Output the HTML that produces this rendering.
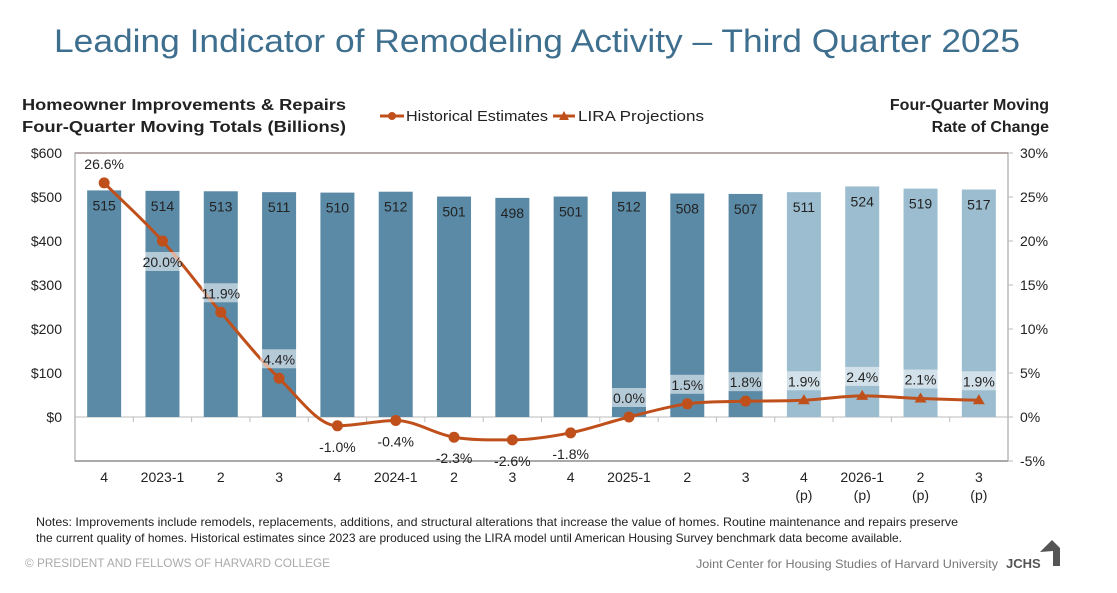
<!DOCTYPE html>
<html><head><meta charset="utf-8"><style>
body{margin:0;background:#fff;}
svg{display:block;font-family:"Liberation Sans",sans-serif;}
</style></head><body>
<svg id="c" width="1117" height="593">
<text x="54" y="52" font-size="32" fill="#3f6f8f" textLength="966" lengthAdjust="spacingAndGlyphs">Leading Indicator of Remodeling Activity – Third Quarter 2025</text>
<text x="22" y="110" font-size="16" font-weight="bold" fill="#222" textLength="324" lengthAdjust="spacingAndGlyphs">Homeowner Improvements &amp; Repairs</text>
<text x="22" y="132" font-size="16" font-weight="bold" fill="#222" textLength="324" lengthAdjust="spacingAndGlyphs">Four-Quarter Moving Totals (Billions)</text>
<text x="1049" y="110" text-anchor="end" font-size="16" font-weight="bold" fill="#222">Four-Quarter Moving</text>
<text x="1049" y="132" text-anchor="end" font-size="16" font-weight="bold" fill="#222">Rate of Change</text>
<g>
<line x1="380" y1="116" x2="404" y2="116" stroke="#c0501b" stroke-width="3"/><circle cx="392" cy="116" r="4" fill="#c0501b"/>
<text x="406" y="121" font-size="15" fill="#222" textLength="142" lengthAdjust="spacingAndGlyphs">Historical Estimates</text>
<line x1="553" y1="116" x2="575" y2="116" stroke="#c0501b" stroke-width="3"/><polygon points="564,111 569,120 559,120" fill="#c0501b"/>
<text x="578" y="121" font-size="15" fill="#222" textLength="126" lengthAdjust="spacingAndGlyphs">LIRA Projections</text>
</g>
<g id="plot"></g>
<text x="36" y="526" font-size="12" fill="#222" textLength="922" lengthAdjust="spacingAndGlyphs">Notes: Improvements include remodels, replacements, additions, and structural alterations that increase the value of homes. Routine maintenance and repairs preserve</text>
<text x="36" y="542" font-size="12" fill="#222" textLength="866" lengthAdjust="spacingAndGlyphs">the current quality of homes. Historical estimates since 2023 are produced using the LIRA model until American Housing Survey benchmark data become available.</text>
<text x="25" y="567" font-size="12" fill="#aaa" textLength="305" lengthAdjust="spacingAndGlyphs">© PRESIDENT AND FELLOWS OF HARVARD COLLEGE</text>
<text x="998" y="568" text-anchor="end" font-size="12" fill="#777" textLength="302" lengthAdjust="spacingAndGlyphs">Joint Center for Housing Studies of Harvard University</text>
<text x="1006" y="568" font-size="13" font-weight="bold" fill="#555">JCHS</text>
<polygon points="1040,552 1052,540 1060,548 1060,566 1053,566 1053,551" fill="#555"/>
</svg>
<script>
const categories=["4","2023-1","2","3","4","2024-1","2","3","4","2025-1","2","3","4","2026-1","2","3"];
const projected=[0,0,0,0,0,0,0,0,0,0,0,0,1,1,1,1];
const totals=[515,514,513,511,510,512,501,498,501,512,508,507,511,524,519,517];
const rates=[26.6,20.0,11.9,4.4,-1.0,-0.4,-2.3,-2.6,-1.8,0.0,1.5,1.8,1.9,2.4,2.1,1.9];
const leftTicks=[0,100,200,300,400,500,600];
const rightTicks=[-5,0,5,10,15,20,25,30];
const L=75,R=1008,T=153,B=461;
const yL=v=>417-v*(417-T)/600;
const yR=v=>417-v*(417-T)/30;
const bw=(R-L)/categories.length;
const xC=i=>L+bw*(i+0.5);
const NS="http://www.w3.org/2000/svg";
const g=document.getElementById('plot');
function mk(t,a,p){const e=document.createElementNS(NS,t);for(const k in a)e.setAttribute(k,a[k]);(p||g).appendChild(e);return e;}
mk('rect',{x:L,y:T,width:R-L,height:B-T,fill:'none',stroke:'#bbb','stroke-width':1.5});
mk('line',{x1:L,y1:T,x2:R,y2:T,stroke:'#a99','stroke-width':1.5});
mk('line',{x1:L,y1:B,x2:R,y2:B,stroke:'#999','stroke-width':1.5});
mk('line',{x1:L,y1:yL(0),x2:R,y2:yL(0),stroke:'#bbb','stroke-width':1});
leftTicks.forEach(v=>{const t=mk('text',{x:62,y:yL(v)+5,'text-anchor':'end','font-size':14,fill:'#222'});t.textContent='$'+v;

});
rightTicks.forEach(v=>{mk('line',{x1:R,y1:yR(v),x2:R+5,y2:yR(v),stroke:'#bbb'});const t=mk('text',{x:1020,y:yR(v)+5,'font-size':14,fill:'#222'});t.textContent=v+'%';

});
categories.forEach((c,i)=>{
 if(i>0)mk('line',{x1:L+bw*i,y1:yL(0),x2:L+bw*i,y2:yL(0)+5,stroke:'#bbb'});
 const bx=xC(i)-17;
 const b=mk('rect',{x:bx,y:yL(totals[i]),width:34,height:yL(0)-yL(totals[i]),fill:projected[i]?'#9bbdcf':'#5b8aa6'});
 
 
 const v=mk('text',{x:xC(i),y:yL(totals[i])+20,'text-anchor':'middle','font-size':14,fill:'#222'});v.textContent=totals[i];
 
 
 const t=mk('text',{x:xC(i),y:482,'text-anchor':'middle','font-size':14,fill:'#222'});t.textContent=c;
 
 
 if(projected[i]){const p=mk('text',{x:xC(i),y:500,'text-anchor':'middle','font-size':14,fill:'#222'});p.textContent='(p)';
 
 }
});
const pts=rates.map((r,i)=>[xC(i),yR(r)]);
const hist=pts.slice(0,12), proj=pts.slice(11);
function path(a){let d='M'+a[0][0]+','+a[0][1];
 const sl=a.map((p,i)=>{const p0=a[Math.max(0,i-1)],p1=a[Math.min(a.length-1,i+1)];let s=(p1[1]-p0[1])/(p1[0]-p0[0]);
  if(i>0&&i<a.length-1){const d0=p[1]-p0[1],d1=p1[1]-p[1];if(d0*d1<=0)s=0;}return s;});
 for(let i=1;i<a.length;i++){const p0=a[i-1],p1=a[i],m=(p1[0]-p0[0])/3;d+=` C${p0[0]+m},${p0[1]+sl[i-1]*m} ${p1[0]-m},${p1[1]-sl[i]*m} ${p1[0]},${p1[1]}`;}return d;}
const lh=mk('path',{d:path(hist),fill:'none',stroke:'#c0501b','stroke-width':3});


const lp=mk('path',{d:path(proj),fill:'none',stroke:'#c0501b','stroke-width':3});


rates.forEach((r,i)=>{
 const [x,y]=pts[i];
 let m;
 if(projected[i]){m=mk('polygon',{points:`${x},${y-6} ${x+6},${y+4} ${x-6},${y+4}`,fill:'#c0501b'});}
 else m=mk('circle',{cx:x,cy:y,r:5.5,fill:'#c0501b'});
 
 
 const below=(r<0||i===1);
 const ly=below?y+26:y-14;
 const lab=(r<0?'-':'')+Math.abs(r).toFixed(1)+'%';
 if((!below&&i>0)||i===1){const bg=mk('rect',{x:x-19,y:ly-15,width:38,height:19,fill:'#ffffff','fill-opacity':0.55});}
 const t=mk('text',{x:x,y:ly,'text-anchor':'middle','font-size':14,fill:'#222'});t.textContent=lab;
 
 
});
</script>
</body></html>
